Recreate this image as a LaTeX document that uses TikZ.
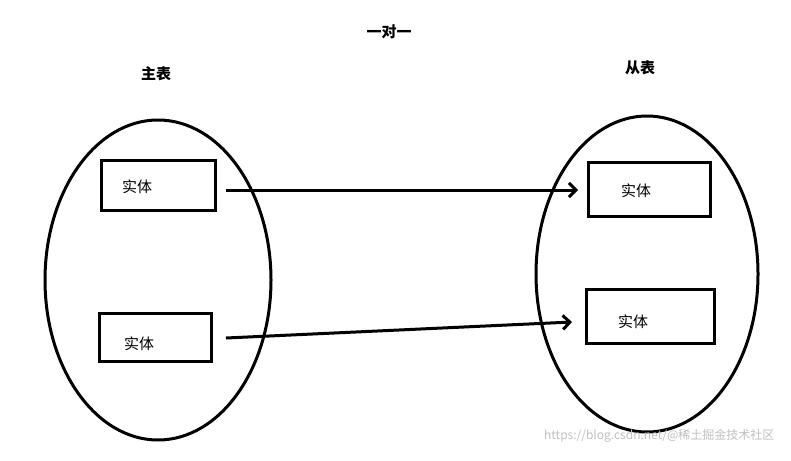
\documentclass[tikz,border=0pt]{standalone}
\usepackage{fontspec}
\setmainfont{Noto Sans CJK SC}
\usetikzlibrary{arrows.meta}
\begin{document}
\begin{tikzpicture}[x=1pt,y=-1pt,
  outline/.style={draw=black,line width=3pt},
  entity/.style={draw=black,line width=3pt,inner sep=0pt},
  conn/.style={line width=3pt,-{Straight Barb[length=7pt,width=14pt,line width=3pt]}},
  lbl/.style={font=\fontsize{15}{17}\selectfont},
  head/.style={font=\bfseries\fontsize{15}{17}\selectfont}]
\useasboundingbox (0,0) rectangle (791,460);
\node[head] (title) at (389,32) {一对一};
\node[head] (mt) at (156,74) {主表};
\node[head] (ct) at (640,68) {从表};
\draw[outline] (158,280) ellipse [x radius=113, y radius=160];
\draw[outline] (647,274) ellipse [x radius=111, y radius=158];
\node[entity,minimum width=114,minimum height=50] (a1) at (158,185) {};
\node[entity,minimum width=112,minimum height=48] (a2) at (155,337) {};
\node[entity,minimum width=122,minimum height=54] (b1) at (649,189) {};
\node[entity,minimum width=128,minimum height=54] (b2) at (650,316) {};
\node[lbl] at (137,187) {实体};
\node[lbl] at (139,344) {实体};
\node[lbl] at (636,191) {实体};
\node[lbl] at (633,322) {实体};
\coordinate (s1) at (226,190); \coordinate (e1) at (578,190);
\coordinate (s2) at (226,338); \coordinate (e2) at (572,322);
\draw[conn] (s1) -- (e1);
\draw[conn] (s2) -- (e2);
\node[text=black!25,font=\fontsize{12}{14}\selectfont,anchor=east] (wm) at (778,436) {https://blog.csdn.net/@稀土掘金技术社区};
\end{tikzpicture}
\end{document}
